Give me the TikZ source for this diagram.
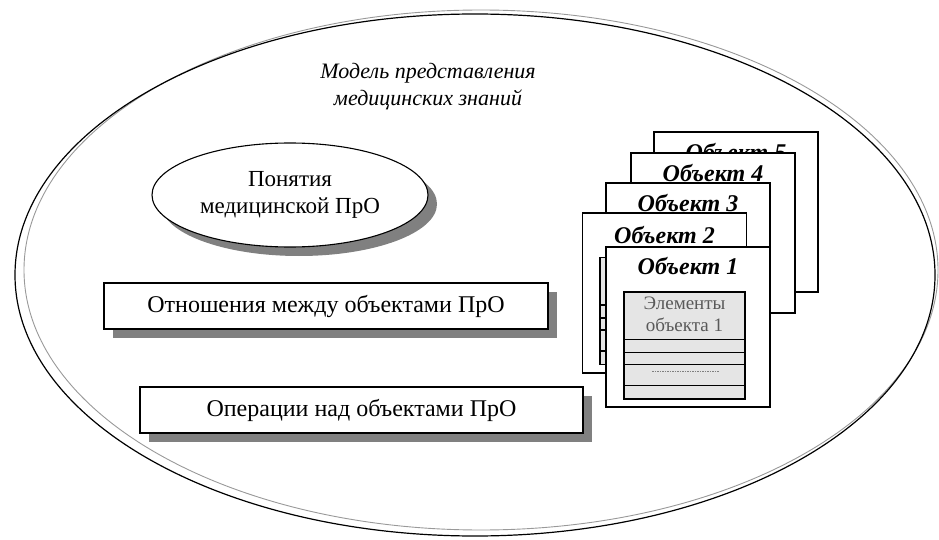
\documentclass[tikz,border=0pt]{standalone}
\usepackage{fontspec}
\setmainfont{Liberation Serif}
\usepackage{tikz}
\usetikzlibrary{shapes.geometric, shadows, positioning}

\begin{document}
\begin{tikzpicture}[
		x = 1pt, y = -1pt, line width = 1.1pt,
		every node/.style = {inner sep = 0pt},
		gray shadow/.style = {drop shadow = {shadow xshift = 9pt, shadow yshift = -9pt, fill = black!50, opacity = 1}},
		shade box/.style = {draw, fill = white, minimum width = 444pt, minimum height = 46pt,
			font = \fontsize{24}{28}\selectfont, gray shadow},
		card/.style = {draw, fill = white, minimum width = 164pt, minimum height = 160pt},
		card title/.style = {font = \fontsize{24}{28}\selectfont\bfseries\itshape},
		elements/.style = {draw, fill = black!10, minimum width = 121pt, minimum height = 107pt}
		]
		\useasboundingbox (0,0) rectangle (939,540);
		
		% outer ellipse of the model
		\draw[black!40, line width = 0.9pt] (481,270) ellipse [x radius = 457, y radius = 260];
		\draw[line width = 1.2pt] (475,275) ellipse [x radius = 460, y radius = 261];
		\node[font = \fontsize{22}{27}\selectfont\itshape, align = center] (Model) at (428,87)
			{Модель представления\\медицинских знаний};
		
		\node[ellipse, draw, fill = white, minimum width = 276pt, minimum height = 104pt, align = center,
			font = \fontsize{23}{27}\selectfont, gray shadow] (Concepts) at (290,195)
			{Понятия\\медицинской ПрО};
		\node[shade box] (Relations) at (326,306) {Отношения между объектами ПрО};
		\node[shade box, minimum width = 443pt] (Operations) at (361.5,410) {Операции над объектами ПрО};
		
		% stack of objects, back to front
		\node[card] (Obj5) at (736,212) {};
		\node[card title, below = 11pt of Obj5.north] (T5) {Объект 5};
		\node[card] (Obj4) at (713,233) {};
		\node[card title, below = 11pt of Obj4.north] (T4) {Объект 4};
		\node[card] (Obj3) at (688,263) {};
		\node[card title, below = 11pt of Obj3.north] (T3) {Объект 3};
		\node[card] (Obj2) at (664.5,293) {};
		\node[card title, below = 13pt of Obj2.north] (T2) {Объект 2};
		\node[elements] (Elem2) at (660.5,311) {};
		\draw ([yshift = -48pt]Elem2.north west) -- ([yshift = -48pt]Elem2.north east);
		\draw ([yshift = -61pt]Elem2.north west) -- ([yshift = -61pt]Elem2.north east);
		\draw ([yshift = -73pt]Elem2.north west) -- ([yshift = -73pt]Elem2.north east);
		\draw ([yshift = -94pt]Elem2.north west) -- ([yshift = -94pt]Elem2.north east);
		\node[card] (Obj1) at (688,327) {};
		\node[card title, below = 10pt of Obj1.north] (T1) {Объект 1};
		\node[elements] (Elem1) at (684.5,345.5) {};
		\draw ([yshift = -48pt]Elem1.north west) -- ([yshift = -48pt]Elem1.north east);
		\draw ([yshift = -61pt]Elem1.north west) -- ([yshift = -61pt]Elem1.north east);
		\draw ([yshift = -73pt]Elem1.north west) -- ([yshift = -73pt]Elem1.north east);
		\draw ([yshift = -94pt]Elem1.north west) -- ([yshift = -94pt]Elem1.north east);
		\node[font = \fontsize{19}{22}\selectfont, text = black!65, align = center, below = 5pt of Elem1.north] (E1)
			{Элементы\\объекта 1};
		\draw[black!50, line width = 0.6pt, dash pattern = on 1.5pt off 1pt]
			([xshift = 29pt, yshift = -80pt]Elem1.north west) -- ([xshift = -27pt, yshift = -80pt]Elem1.north east);
	\end{tikzpicture}
\end{document}
